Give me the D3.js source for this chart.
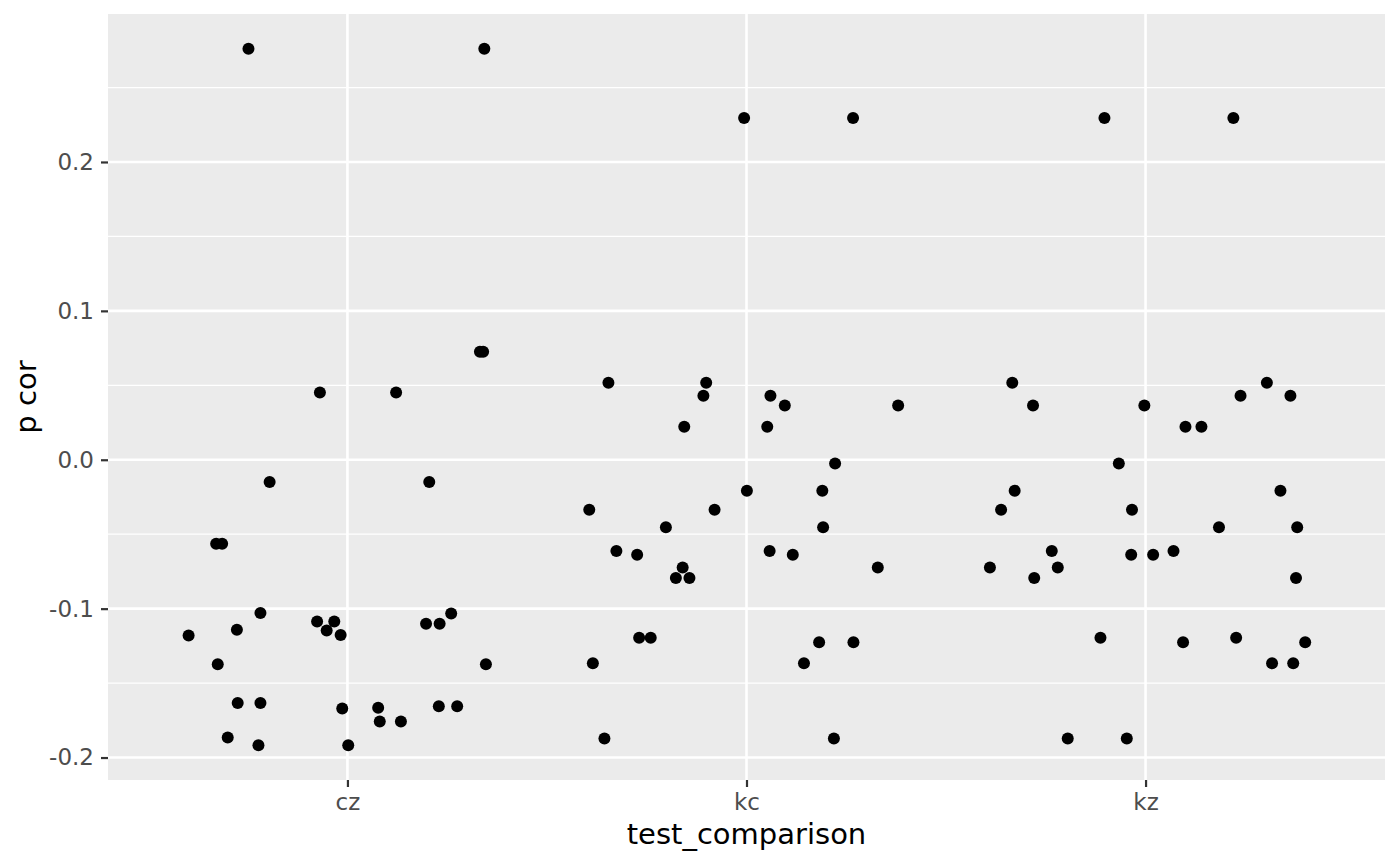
<!DOCTYPE html>
<html>
<head>
<meta charset="utf-8">
<script src="https://cdn.jsdelivr.net/npm/d3@7"></script>
<style>
  body { margin: 0; background: #fff; }
  text { font-family: "DejaVu Sans", sans-serif; }
</style>
</head>
<body>
<svg id="chart" width="1400" height="865"></svg>
<script>
// ====================================================================
// data: value of p cor and jitter offset per point
var categories = ["cz", "kc", "kz"];
var yTicks = [-0.2, -0.1, 0.0, 0.1, 0.2];
var yMinor = [-0.15, -0.05, 0.05, 0.15, 0.25];

var czValues = [0.276, 0.276, 0.0725, 0.0725, 0.0452, 0.0452, -0.015, -0.015, -0.0564, -0.0564,
  -0.1029, -0.1087, -0.1087, -0.1146, -0.1177, -0.1181, -0.1141, -0.1374, -0.1101, -0.1101,
  -0.1032, -0.1374, -0.1633, -0.1633, -0.1671, -0.1666, -0.1758, -0.1758, -0.1656, -0.1656,
  -0.1866, -0.1917, -0.1917];
var czJitter = [-0.248, 0.343, 0.332, 0.340, -0.069, 0.122, -0.195, 0.205, -0.329, -0.314,
  -0.218, -0.076, -0.033, -0.052, -0.017, -0.398, -0.277, -0.325, 0.197, 0.231,
  0.260, 0.347, -0.275, -0.218, -0.013, 0.077, 0.081, 0.134, 0.229, 0.275,
  -0.300, -0.223, 0.002];

var kcValues = [0.2295, 0.2295, 0.0517, 0.0517, 0.043, 0.043, 0.0364, 0.0364, 0.0221, 0.0221,
  -0.0025, -0.0208, -0.0208, -0.0336, -0.0336, -0.0454, -0.0454, -0.0613, -0.0638, -0.0723,
  -0.0794, -0.0794, -0.0613, -0.0638, -0.0723, -0.1195, -0.1195, -0.1367, -0.1226, -0.1226,
  -0.1367, -0.1872, -0.1872];
var kcJitter = [-0.006, 0.267, -0.346, -0.101, -0.108, 0.060, 0.096, 0.380, -0.156, 0.052,
  0.222, 0.001, 0.190, -0.394, -0.080, -0.202, 0.192, -0.326, -0.274, -0.160,
  -0.177, -0.143, 0.058, 0.116, 0.329, -0.269, -0.240, -0.385, 0.182, 0.268,
  0.144, -0.356, 0.219];

var kzValues = [0.2295, 0.2295, 0.0517, 0.0517, 0.043, 0.043, 0.0364, 0.0364, 0.0221, 0.0221,
  -0.0025, -0.0208, -0.0208, -0.0336, -0.0336, -0.0454, -0.0454, -0.0613, -0.0638, -0.0638,
  -0.0613, -0.0723, -0.0723, -0.0794, -0.0794, -0.1195, -0.1226, -0.1195, -0.1226, -0.1367,
  -0.1367, -0.1872, -0.1872];
var kzJitter = [-0.103, 0.220, -0.334, 0.304, 0.238, 0.363, -0.282, -0.003, 0.100, 0.140,
  -0.067, -0.328, 0.338, -0.362, -0.034, 0.184, 0.380, -0.235, -0.036, 0.019,
  0.070, -0.390, -0.220, -0.279, 0.377, -0.113, 0.094, 0.227, 0.400, 0.317,
  0.370, -0.195, -0.047];

// ====================================================================
// layout
var panel = {left: 108, right: 1385, top: 14, bottom: 780};
var int_tick_font = 23;
var int_title_font = 29;
var str_panel_bg = "#EBEBEB";

var svg = d3.select("#chart");

// flatten into rows
var plot_data = [];
[[czValues, czJitter], [kcValues, kcJitter], [kzValues, kzJitter]].forEach(function(pair, i) {
  pair[0].forEach(function(v, j) {
    plot_data.push({cat: categories[i], value: v, jit: pair[1][j]});
  });
});

// ====================================================================
// scales: discrete x with 0.6 expansion, continuous y with 5% expansion
var x = d3.scalePoint()
  .domain(categories)
  .range([panel.left, panel.right])
  .padding(0.6);

var ext = d3.extent(plot_data, function(d) { return d.value; });
var pad = (ext[1] - ext[0]) * 0.05;
var y = d3.scaleLinear()
  .domain([ext[0] - pad, ext[1] + pad])
  .range([panel.bottom, panel.top]);

// ====================================================================
// panel background and grid
svg.append("rect")
  .attr("x", panel.left)
  .attr("y", panel.top)
  .attr("width", panel.right - panel.left)
  .attr("height", panel.bottom - panel.top)
  .style("fill", str_panel_bg);

svg.append("g").selectAll("line")
  .data(yMinor)
  .enter()
  .append("line")
  .attr("x1", panel.left).attr("x2", panel.right)
  .attr("y1", function(d) { return y(d); })
  .attr("y2", function(d) { return y(d); })
  .style("stroke", "#fff")
  .style("stroke-width", 1.3);

svg.append("g").selectAll("line")
  .data(yTicks)
  .enter()
  .append("line")
  .attr("x1", panel.left).attr("x2", panel.right)
  .attr("y1", function(d) { return y(d); })
  .attr("y2", function(d) { return y(d); })
  .style("stroke", "#fff")
  .style("stroke-width", 2.6);

svg.append("g").selectAll("line")
  .data(categories)
  .enter()
  .append("line")
  .attr("y1", panel.top).attr("y2", panel.bottom)
  .attr("x1", function(d) { return x(d); })
  .attr("x2", function(d) { return x(d); })
  .style("stroke", "#fff")
  .style("stroke-width", 2.6);

// ====================================================================
// points
svg.append("g")
  .selectAll("circle")
  .data(plot_data)
  .enter()
  .append("circle")
  .attr("cx", function(d) { return x(d.cat) + d.jit * x.step(); })
  .attr("cy", function(d) { return y(d.value); })
  .attr("r", 6)
  .style("fill", "#000");

// ====================================================================
// axes
var x_axis = svg.append("g")
  .attr("transform", "translate(0," + panel.bottom + ")")
  .call(d3.axisBottom(x).tickSize(7).tickPadding(7));

var y_axis = svg.append("g")
  .attr("transform", "translate(" + panel.left + ",0)")
  .call(d3.axisLeft(y).tickValues(yTicks).tickSize(7).tickPadding(7)
    .tickFormat(function(d) { return d.toFixed(1); }));

[x_axis, y_axis].forEach(function(g) {
  g.select(".domain").remove();
  g.selectAll(".tick line").style("stroke", "#333333").style("stroke-width", 2.2);
  g.selectAll(".tick text")
    .style("fill", "#4D4D4D")
    .style("font-size", int_tick_font + "px")
    .style("font-family", "DejaVu Sans, sans-serif");
});

// titles
svg.append("text")
  .attr("x", (panel.left + panel.right) / 2)
  .attr("y", 844)
  .attr("text-anchor", "middle")
  .style("font-size", int_title_font + "px")
  .style("fill", "#000")
  .text("test_comparison");

svg.append("text")
  .attr("transform", "translate(36," + ((panel.top + panel.bottom) / 2) + ") rotate(-90)")
  .attr("text-anchor", "middle")
  .style("font-size", int_title_font + "px")
  .style("fill", "#000")
  .text("p cor");
</script>
</body>
</html>
